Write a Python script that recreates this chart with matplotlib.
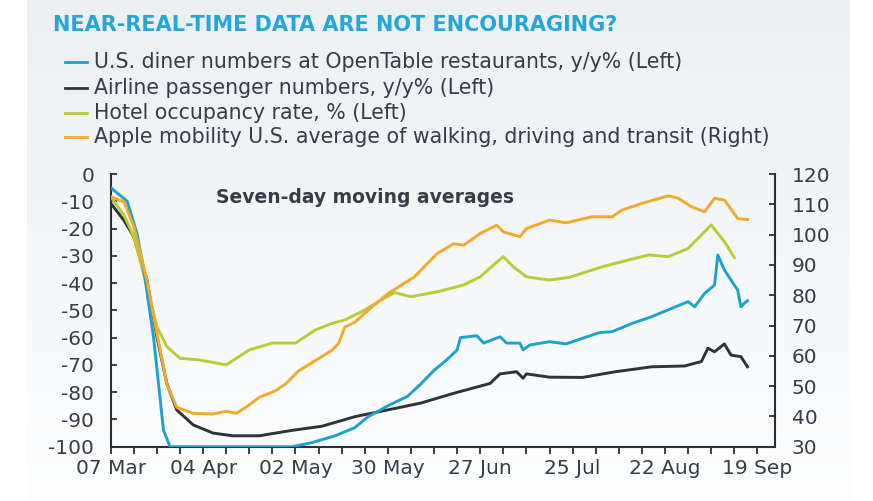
import numpy as np
import matplotlib
matplotlib.use("Agg")
import matplotlib.pyplot as plt
import matplotlib.dates as mdates
from matplotlib.lines import Line2D

## ---- data (days after 07 Mar 2020) ----
start = np.datetime64("2020-03-07")

diner_days = [0, 3, 5, 8, 10, 13, 16, 18, 55, 61, 68, 74, 78, 84, 90, 94, 98, 102, 105, 106,
              111, 113, 118, 120, 124, 125, 127, 133, 138, 148, 152, 158, 164, 170, 175, 177,
              180, 183, 184, 186, 188, 190, 191, 192, 193]
diner_vals = [-5, -8, -10, -22, -35, -60, -94, -100, -100, -98.5, -96, -93, -89, -85, -81.5,
              -77, -72, -68, -64.5, -60, -59.3, -62, -59.7, -62, -62, -64.5, -62.7, -61.5,
              -62.3, -58.2, -57.8, -54.8, -52.3, -49.3, -46.8, -48.7, -43.8, -40.7, -29.7,
              -35.2, -38.9, -42.5, -48.7, -47.4, -46.5]

airline_days = [0, 4, 7, 11, 14, 17, 20, 25, 31, 37, 45, 55, 64, 74, 84, 94, 104, 115, 118,
                123, 125, 126, 133, 143, 153, 164, 174, 177, 179, 181, 183, 186, 188, 191, 193]
airline_vals = [-10.7, -17, -23, -38.9, -59.7, -76.8, -86.5, -92, -95, -96, -96, -94, -92.5,
                -89, -86.5, -84, -80.4, -76.8, -73.3, -72.5, -74.9, -73.3, -74.5, -74.6, -72.5,
                -70.7, -70.4, -69.4, -68.8, -63.9, -65.2, -62.3, -66.4, -67, -70.7]

hotel_days = [0, 4, 7, 11, 14, 17, 21, 27, 35, 42, 49, 56, 62, 67, 71, 76, 82, 86, 91, 99,
              107, 112, 116, 119, 122, 126, 133, 139, 149, 157, 163, 169, 175, 179, 182, 186, 189]
hotel_vals = [-8.3, -15, -23, -41.3, -56, -63.3, -67.6, -68.2, -70, -64.5, -62, -62, -57.2,
              -54.8, -53.5, -50.5, -46.2, -43.5, -45, -43.2, -40.7, -37.7, -33.4, -30.3, -34,
              -37.7, -38.9, -37.9, -34, -31.5, -29.7, -30.3, -27.3, -22.4, -18.7, -24.8, -30.6]

apple_days = [0, 4, 7, 11, 14, 17, 20, 25, 31, 35, 38, 41, 45, 50, 53, 57, 62, 67, 69, 71,
              74, 79, 84, 92, 99, 104, 107, 112, 117, 119, 124, 126, 133, 138, 146, 152, 155,
              161, 169, 172, 176, 180, 183, 186, 190, 193]
apple_vals = [112.5, 110.8, 102.6, 84.9, 67.4, 50.7, 43, 41, 40.8, 41.7, 41, 43, 46.3, 48.5,
              50.7, 55.1, 58.4, 61.8, 64, 69.5, 71.1, 76, 80.5, 86, 93.8, 97, 96.5, 100.4,
              103.1, 100.9, 99.3, 102, 104.8, 103.9, 105.9, 105.9, 108.1, 110.3, 112.8, 112,
              109.2, 107.5, 112, 111.4, 105.3, 105]

labels = ["U.S. diner numbers at OpenTable restaurants, y/y% (Left)",
          "Airline passenger numbers, y/y% (Left)",
          "Hotel occupancy rate, % (Left)",
          "Apple mobility U.S. average of walking, driving and transit (Right)"]
colors = ["#1ea2cc", "#2e3336", "#b8cc34", "#f2aa2e"]

W, H = 873, 501
txt_col = "#363d47"
plt.rcParams["axes.unicode_minus"] = False


def fx(px):
    return px / W


def fy(py):
    return 1 - py / H


def to_dates(days):
    return start + np.array(days).astype("timedelta64[D]")


fig = plt.figure(figsize=(W / 100, H / 100), dpi=100)
fig.patch.set_facecolor("white")

## background panel (soft grey fading to white)
bg = fig.add_axes([fx(27), 0, fx(850 - 27), 1], zorder=-5)
grad = np.linspace(0, 1, 256).reshape(-1, 1)
top = np.array([0.925, 0.941, 0.955])
bot = np.array([0.995, 0.996, 0.998])
img = top[None, None, :] * (1 - grad[:, :, None]) + bot[None, None, :] * grad[:, :, None]
bg.imshow(img, aspect="auto", extent=[0, 1, 0, 1])
bg.axis("off")

## title + manual legend
fig.text(fx(53), fy(25), "NEAR-REAL-TIME DATA ARE NOT ENCOURAGING?", color="#22a7d7",
         fontsize=15, fontweight="bold", va="center", ha="left")
for i, (lab, col) in enumerate(zip(labels, colors)):
    yy = fy([62, 88, 113, 137][i])
    fig.add_artist(Line2D([fx(65), fx(87)], [yy, yy], color=col, lw=2))
    fig.text(fx(94), yy, lab, color=txt_col, fontsize=14.8, va="center", ha="left")

## main axes
left, right, top_px, bot_px = 110.7, 775, 174, 446.7
ax = fig.add_axes([fx(left), fy(bot_px), fx(right - left), (bot_px - top_px) / H])
ax.set_facecolor("none")
ax2 = ax.twinx()

ax.plot(to_dates(diner_days), diner_vals, color=colors[0], lw=2.1, zorder=4)
ax.plot(to_dates(airline_days), airline_vals, color=colors[1], lw=2.1, zorder=3)
ax.plot(to_dates(hotel_days), hotel_vals, color=colors[2], lw=2.1, zorder=3)
ax2.plot(to_dates(apple_days), apple_vals, color=colors[3], lw=2.1, zorder=3)

ax.set_ylim(-100, 0)
ax.set_yticks(np.arange(-100, 1, 10))
ax2.set_ylim(30, 120)
ax2.set_yticks(np.arange(30, 121, 10))

xmin = start
xmax = start + np.timedelta64(4832, "h")
ax.set_xlim(xmin, xmax)
ax.set_xticks(start + np.arange(0, 197, 28).astype("timedelta64[D]"))
ax.set_xticks(start + np.arange(0, 200, 7).astype("timedelta64[D]"), minor=True)
ax.xaxis.set_major_formatter(mdates.DateFormatter("%d %b"))

for a in (ax, ax2):
    for s in a.spines.values():
        s.set_color("#2a2f35")
        s.set_linewidth(1.5)
    a.spines["top"].set_visible(False)
ax.spines["right"].set_visible(False)
ax2.spines["left"].set_visible(False)
ax2.spines["bottom"].set_visible(False)

ax.tick_params(axis="x", which="both", direction="out", length=5, width=1.3,
               color="#2a2f35", labelsize=14.5, labelcolor=txt_col, pad=4)
ax.tick_params(axis="y", direction="in", length=4, width=1.3, color="#2a2f35",
               labelsize=14.5, labelcolor=txt_col, pad=12)
ax2.tick_params(axis="y", direction="in", length=4, width=1.3, color="#2a2f35",
                labelsize=14.5, labelcolor=txt_col, pad=12)

ax.text(start + np.timedelta64(32, "D"), -8.5, "Seven-day moving averages",
        color=txt_col, fontsize=13.5, fontweight="bold", va="center", ha="left")

fig.savefig("out.png", dpi=100)
